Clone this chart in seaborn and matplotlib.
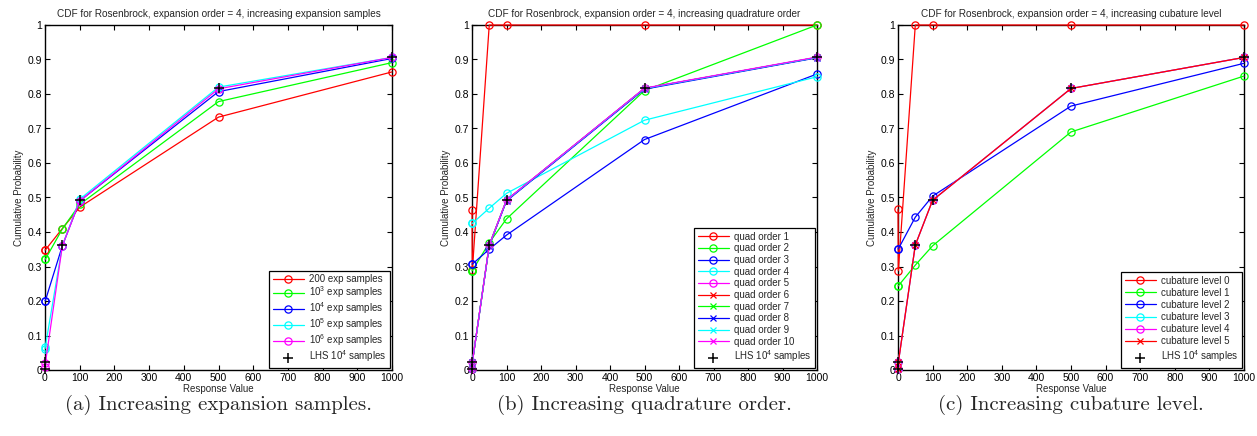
import numpy as np
import pandas as pd
import seaborn as sns
import matplotlib
matplotlib.use("Agg")
import matplotlib.pyplot as plt

# ---------------- data ----------------
resp_levels = [0.1, 1, 50, 100, 500, 1000]
lhs_vals = [0.003, 0.022, 0.362, 0.492, 0.816, 0.906]

# panel (a): increasing expansion samples
a_labels = ["200 exp samples", "10$^{3}$ exp samples", "10$^{4}$ exp samples",
            "10$^{5}$ exp samples", "10$^{6}$ exp samples"]
a_s200 = [0.348, 0.348, 0.41, 0.472, 0.733, 0.864]
a_s1e3 = [0.321, 0.321, 0.409, 0.48, 0.778, 0.891]
a_s1e4 = [0.201, 0.201, 0.36, 0.49, 0.807, 0.903]
a_s1e5 = [0.062, 0.068, 0.36, 0.495, 0.82, 0.906]
a_s1e6 = [0.008, 0.019, 0.36, 0.49, 0.815, 0.906]

# panel (b): increasing quadrature order
b_labels = ["quad order %d" % i for i in range(1, 11)]
b_q1 = [0.465, 0.29, 1.0, 1.0, 1.0, 1.0]
b_q2 = [0.288, 0.288, 0.369, 0.438, 0.81, 1.0]
b_q3 = [0.307, 0.307, 0.35, 0.391, 0.668, 0.858]
b_q4 = [0.425, 0.425, 0.469, 0.512, 0.724, 0.85]
b_q5 = [0.003, 0.022, 0.362, 0.492, 0.816, 0.906]
b_q6 = [0.003, 0.022, 0.362, 0.492, 0.816, 0.906]
b_q7 = [0.003, 0.022, 0.362, 0.492, 0.816, 0.906]
b_q8 = [0.003, 0.022, 0.36, 0.49, 0.814, 0.905]
b_q9 = [0.003, 0.022, 0.362, 0.492, 0.816, 0.906]
b_q10 = [0.003, 0.022, 0.362, 0.493, 0.817, 0.907]

# panel (c): increasing cubature level
c_labels = ["cubature level %d" % i for i in range(0, 6)]
c_l0 = [0.466, 0.288, 1.0, 1.0, 1.0, 1.0]
c_l1 = [0.244, 0.244, 0.304, 0.36, 0.69, 0.852]
c_l2 = [0.351, 0.351, 0.443, 0.504, 0.765, 0.889]
c_l3 = [0.003, 0.022, 0.362, 0.492, 0.816, 0.906]
c_l4 = [0.003, 0.022, 0.362, 0.492, 0.816, 0.906]
c_l5 = [0.003, 0.022, 0.362, 0.492, 0.816, 0.906]

titles = ["CDF for Rosenbrock, expansion order = 4, increasing expansion samples",
          "CDF for Rosenbrock, expansion order = 4, increasing quadrature order",
          "CDF for Rosenbrock, expansion order = 4, increasing cubature level"]
captions = ["(a) Increasing expansion samples.",
            "(b) Increasing quadrature order.",
            "(c) Increasing cubature level."]
lhs_label = "LHS 10$^{4}$ samples"
x_ticks = list(range(0, 1001, 100))
y_ticks = [0, 0.1, 0.2, 0.3, 0.4, 0.5, 0.6, 0.7, 0.8, 0.9, 1]
y_ticklabels = ["0", "0.1", "0.2", "0.3", "0.4", "0.5", "0.6", "0.7", "0.8", "0.9", "1"]

# ---------------- style ----------------
sns.set_theme(style="ticks")
plt.rcParams["font.family"] = ["Liberation Sans", "DejaVu Sans"]
plt.rcParams["mathtext.fontset"] = "custom"
plt.rcParams["mathtext.rm"] = "Liberation Sans"
plt.rcParams["mathtext.it"] = "Liberation Sans"
plt.rcParams["mathtext.bf"] = "Liberation Sans"
plt.rcParams["xtick.direction"] = "in"
plt.rcParams["ytick.direction"] = "in"

W, H = 1257, 436
fig = plt.figure(figsize=(W / 100, H / 100), dpi=100)

def axes_px(x0, x1, y0, y1):
    return fig.add_axes([x0 / W, 1 - y1 / H, (x1 - x0) / W, (y1 - y0) / H])

ax_a = axes_px(45, 392, 25, 370)
ax_b = axes_px(472, 817, 25, 370)
ax_c = axes_px(898, 1244, 25, 370)

cols = ["#ff0000", "#00ff00", "#0000ff", "#00ffff", "#ff00ff"]

def draw_series(ax, yvals, color, marker, label):
    df = pd.DataFrame({"x": resp_levels, "y": yvals})
    if marker == "o":
        kw = dict(markerfacecolor="none", markeredgecolor=color, markersize=5.2,
                  markeredgewidth=0.9)
    else:
        kw = dict(markersize=4, markeredgewidth=0.9, markeredgecolor=color)
    sns.lineplot(data=df, x="x", y="y", ax=ax, color=color, marker=marker,
                 linewidth=0.9, estimator=None, sort=False, label=label,
                 clip_on=False, **kw)

def draw_lhs(ax):
    df = pd.DataFrame({"x": resp_levels, "y": lhs_vals})
    sns.scatterplot(data=df, x="x", y="y", ax=ax, color="black", marker="+",
                    s=45, linewidth=1.1, label=lhs_label, clip_on=False,
                    zorder=5)

# panel a
for vals, c, lab in zip([a_s200, a_s1e3, a_s1e4, a_s1e5, a_s1e6], cols, a_labels):
    draw_series(ax_a, vals, c, "o", lab)
draw_lhs(ax_a)

# panel b
b_series = [b_q1, b_q2, b_q3, b_q4, b_q5, b_q6, b_q7, b_q8, b_q9, b_q10]
for i, (vals, lab) in enumerate(zip(b_series, b_labels)):
    draw_series(ax_b, vals, cols[i % 5], "o" if i < 5 else "x", lab)
draw_lhs(ax_b)

# panel c
c_series = [c_l0, c_l1, c_l2, c_l3, c_l4, c_l5]
for i, (vals, lab) in enumerate(zip(c_series, c_labels)):
    draw_series(ax_c, vals, cols[i % 5], "o" if i < 5 else "x", lab)
draw_lhs(ax_c)

spacings = [0.02, 0.17, 0.22]
for ax, t, cap, sp in zip([ax_a, ax_b, ax_c], titles, captions, spacings):
    ax.set_xlim(0, 1000)
    ax.set_ylim(0, 1)
    ax.set_xticks(x_ticks)
    ax.set_xticklabels([str(v) for v in x_ticks])
    ax.set_yticks(y_ticks)
    ax.set_yticklabels(y_ticklabels)
    ax.tick_params(axis="both", which="both", labelsize=7.5, length=3.5, width=0.8,
                   top=True, right=True, pad=2, colors="black")
    for s in ax.spines.values():
        s.set_visible(True)
        s.set_linewidth(1.0)
        s.set_color("black")
        s.set_zorder(1)
    ax.set_title(t, fontsize=7.2, pad=6)
    ax.set_xlabel("Response Value", fontsize=7, labelpad=1)
    ax.set_ylabel("Cumulative Probability", fontsize=7, labelpad=3)
    leg = ax.legend(loc="lower right", fontsize=7, frameon=True, fancybox=False,
                    edgecolor="black", framealpha=1, borderaxespad=0.25,
                    handlelength=3.2, labelspacing=sp, borderpad=0.35,
                    handletextpad=0.5)
    leg.get_frame().set_linewidth(0.9)
    leg.set_zorder(10)
    bb = ax.get_position()
    fig.text((bb.x0 + bb.x1) / 2, 1 - 405 / H, cap, ha="center", va="center",
             fontsize=15, family="cmr10")

fig.savefig("out.png", dpi=100)
